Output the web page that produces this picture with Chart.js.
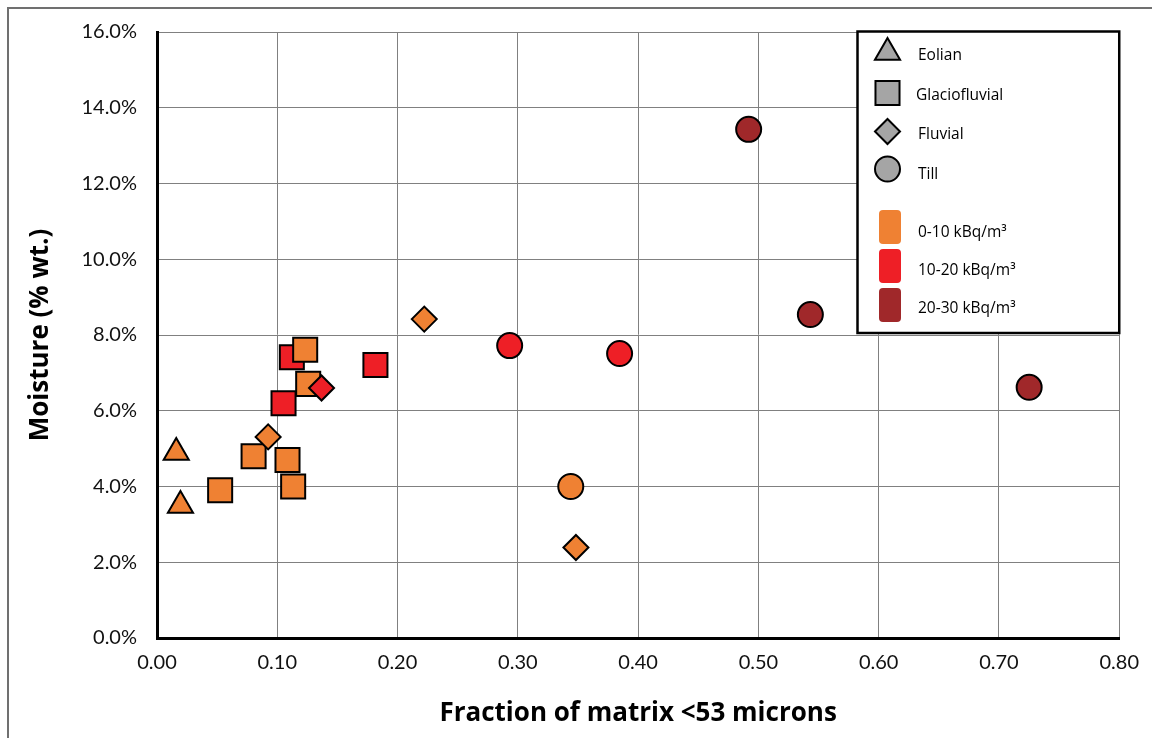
<!DOCTYPE html>
<html>
<head>
<meta charset="utf-8">
<script src="https://cdn.jsdelivr.net/npm/chart.js@4/dist/chart.umd.min.js"></script>
<style>
html,body{margin:0;padding:0;background:#fff;}
#wrap{width:1152px;height:738px;position:relative;}
</style>
</head>
<body>
<div id="wrap"><canvas id="c" width="1152" height="738"></canvas></div>
<script>
// ---- tick labels ----
const xTickLabels = ['0.00','0.10','0.20','0.30','0.40','0.50','0.60','0.70','0.80'];
const yTickLabels = ['0.0%','2.0%','4.0%','6.0%','8.0%','10.0%','12.0%','14.0%','16.0%'];

// ---- radon classes (index into rangeLabels) ----
const rangeLabels = ['0-10 kBq/m\u00B3','10-20 kBq/m\u00B3','20-30 kBq/m\u00B3'];
const typeLabels = ['Eolian','Glaciofluvial','Fluvial','Till'];

// ---- series: x = fraction of matrix <53 microns, y = moisture (% wt.) ----
const eolianX = [0.016, 0.0195];
const eolianY = [4.9, 3.5];
const eolianClass = [0, 0];

const glacioX = [0.1052, 0.1121, 0.1816, 0.0525, 0.0803, 0.1085, 0.1132, 0.1257, 0.1232];
const glacioY = [6.20, 7.41, 7.21, 3.90, 4.80, 4.70, 4.00, 6.71, 7.61];
const glacioClass = [1, 1, 1, 0, 0, 0, 0, 0, 0];

const fluvialX = [0.2222, 0.0924, 0.3483, 0.1368];
const fluvialY = [8.42, 5.31, 2.39, 6.60];
const fluvialClass = [0, 0, 0, 1];

const tillX = [0.344, 0.2932, 0.3846, 0.4919, 0.5432, 0.7251];
const tillY = [4.0, 7.72, 7.51, 13.43, 8.54, 6.62];
const tillClass = [0, 1, 1, 2, 2, 2];

// ---- styles ----
const classColors = ['#EF8133', '#EE1F26', '#A0282A'];
const legendGrey = '#A5A5A5';

function pts(xs, ys) { return xs.map((x, i) => ({x: x, y: ys[i]})); }
function cols(cls) { return cls.map(c => classColors[c]); }

const markerStyles = {
  triangle: {pointStyle: 'triangle', radius: 14.5},
  rect: {pointStyle: 'rect', radius: 17},
  rectRot: {pointStyle: 'rectRot', radius: 12.5},
  circle: {pointStyle: 'circle', radius: 12.5}
};

function ds(label, xs, ys, cls, style) {
  return {
    label: label,
    data: pts(xs, ys),
    pointStyle: markerStyles[style].pointStyle,
    pointRadius: markerStyles[style].radius,
    pointHoverRadius: markerStyles[style].radius,
    pointBackgroundColor: cols(cls),
    pointBorderColor: '#000',
    pointBorderWidth: 2,
    showLine: false
  };
}

const frame = {
  id: 'frame',
  beforeDraw(chart) {
    const ctx = chart.ctx;
    ctx.save();
    ctx.fillStyle = '#fff';
    ctx.fillRect(0, 0, chart.width, chart.height);
    ctx.strokeStyle = '#707070';
    ctx.lineWidth = 2;
    ctx.beginPath();
    ctx.moveTo(8, 738);
    ctx.lineTo(8, 8);
    ctx.lineTo(1152, 8);
    ctx.stroke();
    ctx.restore();
  }
};

const legendBox = {
  id: 'legendBox',
  afterDraw(chart) {
    const ctx = chart.ctx;
    const area = chart.chartArea;
    ctx.save();
    const bx = 857.5, by = area.top - 0.5, bw = area.right - 857.5, bh = 301.5;
    ctx.fillStyle = '#fff';
    ctx.fillRect(bx, by, bw, bh);
    ctx.strokeStyle = '#000';
    ctx.lineWidth = 2.5;
    ctx.strokeRect(bx, by, bw, bh);

    const sx = 887.5;
    const shapes = ['triangle', 'rect', 'rectRot', 'circle'];
    const sy = [52.5, 93, 131.5, 169];
    const ty = [56, 96, 135, 175];
    const tx = [918, 916, 918, 918];
    ctx.font = '15.5px "Open Sans"';
    ctx.textBaseline = 'middle';
    ctx.textAlign = 'left';
    shapes.forEach((s, i) => {
      ctx.fillStyle = legendGrey;
      ctx.strokeStyle = '#000';
      ctx.lineWidth = 2;
      Chart.helpers.drawPoint(ctx, {pointStyle: markerStyles[s].pointStyle, radius: markerStyles[s].radius, borderWidth: 2, rotation: 0}, sx, sy[i]);
      ctx.fillStyle = '#000';
      ctx.fillText(typeLabels[i], tx[i], ty[i]);
    });
    const swY = [210, 249, 288];
    const swT = [233, 271, 309];
    rangeLabels.forEach((lab, i) => {
      ctx.fillStyle = classColors[i];
      ctx.beginPath();
      ctx.roundRect(879, swY[i], 22, 34, 4);
      ctx.fill();
      ctx.fillStyle = '#000';
      ctx.fillText(lab, 918, swT[i]);
    });
    ctx.restore();
  }
};

const tickFont = {family: 'Lato', size: 20};
const titleFont = {family: 'Open Sans', size: 26, weight: 'bold'};

new Chart(document.getElementById('c'), {
  type: 'scatter',
  data: {
    datasets: [
      ds('Fluvial', fluvialX, fluvialY, fluvialClass, 'rectRot'),
      ds('Glaciofluvial', glacioX, glacioY, glacioClass, 'rect'),
      ds('Eolian', eolianX, eolianY, eolianClass, 'triangle'),
      ds('Till', tillX, tillY, tillClass, 'circle')
    ]
  },
  options: {
    responsive: false,
    animation: false,
    layout: {padding: {top: 29, right: 32, left: 0, bottom: 0}},
    plugins: {legend: {display: false}, tooltip: {enabled: false}},
    scales: {
      x: {
        type: 'linear', min: 0, max: 0.8,
        afterFit: s => { s.height = 100; },
        ticks: {stepSize: 0.1, font: tickFont, color: '#111', padding: 13,
          callback: (v, i) => xTickLabels[i]},
        grid: {color: '#808080', lineWidth: 1, drawTicks: false},
        border: {color: '#000', width: 3},
        title: {display: true, text: 'Fraction of matrix <53 microns', font: titleFont, color: '#000', padding: {bottom: 9}}
      },
      y: {
        type: 'linear', min: 0, max: 16,
        afterFit: s => { s.width = 157; },
        ticks: {stepSize: 2, font: tickFont, color: '#111', padding: 20,
          callback: (v, i) => yTickLabels[i]},
        grid: {color: '#808080', lineWidth: 1, drawTicks: false},
        border: {color: '#000', width: 3},
        title: {display: true, text: 'Moisture (% wt.)', font: titleFont, color: '#000', padding: {top: 25}}
      }
    }
  },
  plugins: [frame, legendBox]
});
</script>
</body>
</html>
